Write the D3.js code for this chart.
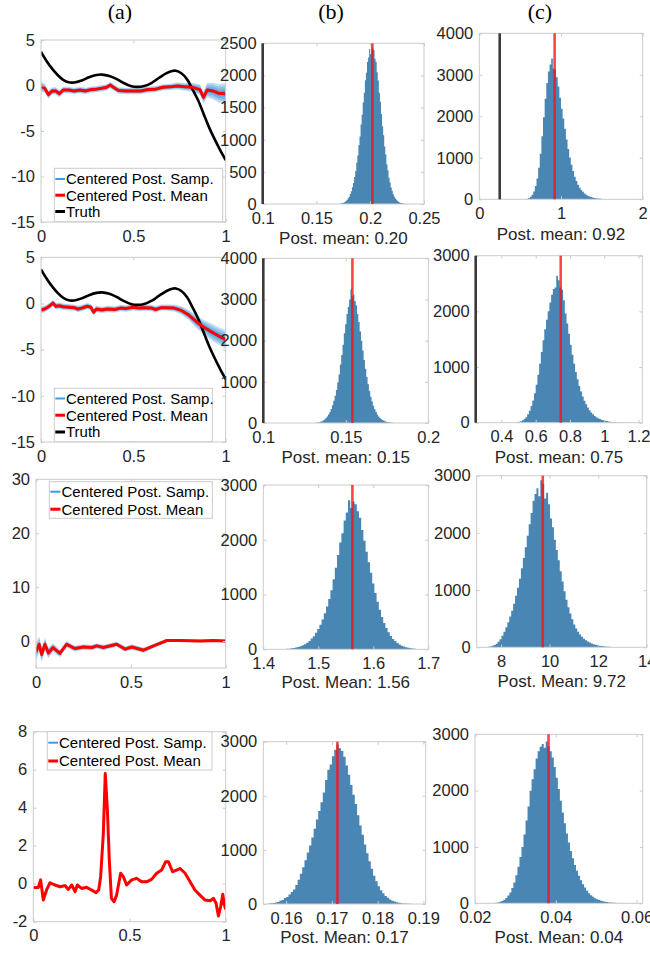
<!DOCTYPE html>
<html>
<head>
<meta charset="utf-8">
<script src="https://cdn.jsdelivr.net/npm/d3@7"></script>
<style>
  body { margin: 0; background: #fff; }
  svg { display: block; }
</style>
</head>
<body>
<svg id="fig" width="650" height="953"></svg>
<script>
// ---------------- data ----------------
const columnTitles = ["(a)", "(b)", "(c)"];
const legendFull = ["Centered Post. Samp.", "Centered Post. Mean", "Truth"];
const legendShort = ["Centered Post. Samp.", "Centered Post. Mean"];

// shared true function (rows 1 and 2, column a)
const truthX = [0, 0.03, 0.06, 0.09, 0.12, 0.15, 0.18, 0.22, 0.26, 0.3, 0.33, 0.37, 0.41, 0.45, 0.49, 0.52, 0.56, 0.6, 0.64, 0.68, 0.71, 0.73, 0.76, 0.79, 0.82, 0.85, 0.88, 0.91, 0.94, 0.97, 1.0];
const truthY = [3.7, 2.7, 1.85, 1.15, 0.62, 0.35, 0.33, 0.55, 0.9, 1.15, 1.2, 1.05, 0.7, 0.25, -0.08, -0.15, -0.05, 0.3, 0.85, 1.35, 1.6, 1.62, 1.35, 0.7, -0.4, -1.6, -3.1, -4.6, -5.9, -7.1, -8.2];

// posterior mean and sample spread, row 1
const mean1X = [0, 0.02, 0.04, 0.06, 0.08, 0.1, 0.12, 0.15, 0.18, 0.21, 0.24, 0.27, 0.3, 0.33, 0.355, 0.375, 0.4, 0.42, 0.46, 0.5, 0.54, 0.58, 0.62, 0.66, 0.7, 0.74, 0.78, 0.82, 0.86, 0.88, 0.9, 0.93, 0.96, 1.0];
const mean1Y = [-0.1, -0.3, -1.0, -0.6, -0.6, -0.9, -0.5, -0.5, -0.6, -0.5, -0.6, -0.45, -0.4, -0.3, -0.2, 0.05, -0.3, -0.55, -0.6, -0.6, -0.6, -0.45, -0.4, -0.2, -0.15, -0.05, -0.15, -0.2, -0.45, -1.3, -0.5, -0.6, -0.85, -0.9];
const spread1 = [0.55, 0.5, 0.45, 0.4, 0.4, 0.4, 0.36, 0.35, 0.35, 0.35, 0.35, 0.35, 0.35, 0.35, 0.35, 0.35, 0.35, 0.35, 0.35, 0.35, 0.35, 0.35, 0.35, 0.35, 0.35, 0.38, 0.42, 0.5, 0.6, 0.7, 0.8, 0.9, 1.0, 1.15];

// row 2
const mean2X = [0, 0.02, 0.045, 0.065, 0.08, 0.1, 0.12, 0.15, 0.18, 0.2, 0.22, 0.25, 0.27, 0.285, 0.3, 0.33, 0.36, 0.4, 0.43, 0.46, 0.5, 0.53, 0.56, 0.6, 0.62, 0.65, 0.68, 0.72, 0.76, 0.8, 0.84, 0.88, 0.92, 0.96, 1.0];
const mean2Y = [-0.7, -0.6, -0.3, 0.05, -0.3, -0.25, -0.35, -0.4, -0.45, -0.6, -0.5, -0.3, -0.4, -0.95, -0.6, -0.7, -0.6, -0.65, -0.5, -0.55, -0.4, -0.5, -0.45, -0.5, -0.65, -0.45, -0.45, -0.5, -0.75, -1.25, -1.95, -2.55, -3.05, -3.5, -3.9];
const spread2 = [0.35, 0.35, 0.35, 0.35, 0.35, 0.35, 0.35, 0.35, 0.35, 0.35, 0.35, 0.35, 0.35, 0.35, 0.35, 0.35, 0.35, 0.35, 0.35, 0.35, 0.35, 0.35, 0.35, 0.35, 0.35, 0.35, 0.35, 0.38, 0.45, 0.55, 0.7, 0.8, 0.9, 0.95, 1.0];

// row 3
const mean3X = [0, 0.017, 0.03, 0.047, 0.065, 0.09, 0.126, 0.161, 0.205, 0.25, 0.294, 0.32, 0.355, 0.425, 0.47, 0.505, 0.567, 0.62, 0.69, 0.76, 0.865, 0.935, 1.0];
const mean3Y = [-2.0, -0.6, -2.5, -0.6, -2.2, -1.2, -2.3, -0.6, -1.4, -1.1, -1.2, -0.9, -1.2, -0.6, -1.5, -1.1, -1.7, -0.9, 0.1, 0.1, 0, 0.1, 0];
const spread3 = [1.6, 1.5, 1.4, 1.2, 1.0, 0.8, 0.7, 0.6, 0.55, 0.5, 0.5, 0.5, 0.5, 0.5, 0.5, 0.5, 0.5, 0.4, 0.3, 0.3, 0.3, 0.3, 0.3];

// row 4
const mean4X = [0, 0.026, 0.038, 0.052, 0.069, 0.087, 0.113, 0.139, 0.165, 0.182, 0.2, 0.217, 0.229, 0.251, 0.277, 0.303, 0.326, 0.34, 0.35, 0.364, 0.374, 0.385, 0.395, 0.406, 0.42, 0.433, 0.454, 0.468, 0.485, 0.511, 0.537, 0.563, 0.589, 0.615, 0.641, 0.667, 0.688, 0.702, 0.724, 0.745, 0.763, 0.789, 0.815, 0.84, 0.866, 0.893, 0.919, 0.936, 0.95, 0.962, 0.974, 0.985, 0.991, 1.0];
const mean4Y = [-0.2, -0.2, 0.2, -0.86, -0.33, 0.05, -0.07, -0.16, -0.1, -0.3, -0.07, -0.42, -0.07, -0.25, -0.19, -0.33, -0.47, -0.33, 0.37, 2.65, 5.8, 3.9, 1.25, -0.77, -0.95, -0.6, 0.55, 0.37, -0.07, 0.2, 0.28, 0.1, 0.1, 0.23, 0.55, 0.72, 1.16, 1.16, 0.63, 0.72, 0.8, 0.55, 0.1, -0.33, -0.6, -0.86, -0.9, -0.77, -1.03, -1.7, -1.2, -0.56, -1.03, -1.35];
const spread4 = mean4X.map(() => 0.08);

// tick values / labels, column a
const fnXTicks = [0, 0.5, 1];
const fnXLabels = ["0", "0.5", "1"];
const fnYTicks12 = [5, 0, -5, -10, -15];
const fnYLabels12 = ["5", "0", "-5", "-10", "-15"];
const fnYTicks3 = [30, 20, 10, 0];
const fnYLabels3 = ["30", "20", "10", "0"];
const fnYTicks4 = [8, 6, 4, 2, 0, -2];
const fnYLabels4 = ["8", "6", "4", "2", "0", "-2"];

// histograms: first bin edge, bin width, counts
const histB1Start = 0.172, histB1Bin = 0.001;
const histB1Counts = [7, 11, 16, 22, 33, 46, 64, 88, 113, 156, 198, 262, 328, 420, 512, 640, 755, 915, 1050, 1235, 1390, 1580, 1730, 1925, 2040, 2210, 2280, 2410, 2330, 2450, 2420, 2390, 2260, 2210, 2050, 1920, 1730, 1590, 1400, 1210, 1070, 895, 770, 620, 525, 410, 335, 255, 205, 150, 118, 84, 66, 46, 33, 22, 16, 11, 7, 5, 3, 2, 1, 1];
const histB1Mean = 0.202, histB1Truth = 0.1;

const histC1Start = 0.5, histC1Bin = 0.02;
const histC1Counts = [1, 2, 4, 8, 16, 32, 60, 110, 190, 320, 500, 760, 1100, 1520, 1980, 2420, 2800, 3080, 3250, 3390, 3150, 3120, 2940, 2720, 2450, 2180, 1950, 1700, 1440, 1210, 1010, 830, 680, 545, 440, 350, 280, 225, 180, 140, 112, 88, 70, 55, 43, 34, 27, 21, 17, 13, 10, 8, 7, 5, 4, 4, 3, 3, 2, 2, 2, 1, 1, 1, 1, 1, 1, 1];
const histC1Mean = 0.922, histC1Truth = 0.25;

const histB2Start = 0.132, histB2Bin = 0.0008;
const histB2Counts = [8, 12, 20, 30, 45, 62, 85, 115, 155, 205, 265, 340, 430, 540, 660, 800, 990, 1180, 1420, 1650, 1900, 2180, 2400, 2650, 2820, 3000, 3240, 3080, 3120, 2960, 2860, 2650, 2450, 2220, 2000, 1760, 1530, 1320, 1120, 940, 780, 640, 520, 420, 335, 265, 205, 160, 122, 92, 70, 52, 38, 28, 20, 14, 10, 7, 5, 3];
const histB2Mean = 0.154, histB2Truth = 0.1;

const histC2Start = 0.45, histC2Bin = 0.01;
const histC2Counts = [2, 3, 5, 7, 11, 18, 28, 42, 65, 100, 150, 215, 300, 400, 530, 680, 860, 1060, 1270, 1480, 1680, 1850, 2000, 2160, 2300, 2400, 2430, 2640, 2560, 2430, 2390, 2200, 1960, 1780, 1600, 1400, 1220, 1060, 910, 780, 660, 560, 470, 395, 330, 275, 225, 185, 150, 122, 100, 82, 66, 54, 44, 36, 29, 23, 18, 14, 11, 9, 7, 5, 4, 3, 3, 2, 2, 1];
const histC2Mean = 0.746, histC2Truth = 0.25;

const histB3Start = 1.43, histB3Bin = 0.004;
const histB3Counts = [3, 4, 6, 9, 12, 17, 24, 32, 42, 55, 72, 92, 118, 150, 195, 240, 300, 370, 450, 545, 660, 780, 920, 1080, 1280, 1490, 1720, 1950, 2120, 2350, 2500, 2720, 2580, 2700, 2650, 2520, 2400, 2180, 1980, 1780, 1590, 1400, 1200, 1030, 870, 720, 590, 480, 390, 310, 245, 190, 150, 115, 88, 66, 50, 37, 27, 20, 14, 10, 7, 5, 3];
const histB3Mean = 1.562;

const histC3Start = 7.3, histC3Bin = 0.08;
const histC3Counts = [3, 6, 10, 16, 26, 40, 62, 95, 140, 200, 270, 350, 440, 540, 640, 760, 900, 1040, 1200, 1380, 1560, 1750, 1950, 2150, 2350, 2560, 2680, 2780, 2640, 2920, 2860, 2600, 2700, 2500, 2250, 2100, 1880, 1700, 1520, 1330, 1150, 980, 830, 700, 590, 490, 400, 330, 270, 225, 185, 150, 125, 100, 82, 66, 54, 44, 35, 28, 22, 18, 14, 11, 8, 6, 5, 3, 2, 2, 1, 1];
const histC3Mean = 9.72;

const histB4Start = 0.156, histB4Bin = 0.0005;
const histB4Counts = [8, 12, 18, 26, 38, 60, 75, 110, 130, 175, 220, 270, 350, 450, 560, 680, 810, 950, 1080, 1230, 1390, 1560, 1720, 1880, 2060, 2290, 2480, 2580, 2730, 2850, 2950, 2880, 2830, 2720, 2560, 2390, 2200, 2020, 1850, 1640, 1450, 1280, 1100, 940, 790, 650, 520, 420, 330, 255, 200, 150, 115, 85, 62, 45, 32, 23, 16, 11, 8, 5, 3, 2, 1, 1];
const histB4Mean = 0.1712;

const histC4Start = 0.024, histC4Bin = 0.0005;
const histC4Counts = [4, 6, 10, 16, 26, 42, 65, 95, 140, 190, 270, 370, 500, 650, 820, 1000, 1220, 1470, 1720, 2000, 2200, 2380, 2570, 2700, 2780, 2830, 2760, 2870, 2790, 2700, 2590, 2420, 2230, 2030, 1820, 1610, 1420, 1240, 1080, 930, 800, 680, 580, 490, 410, 340, 280, 225, 180, 145, 115, 90, 72, 57, 45, 35, 27, 21, 16, 13, 10, 8, 6, 5, 4, 3, 2, 2, 1];
const histC4Mean = 0.0382;

// axis ticks, histograms
const histB1XTicks = [0.1, 0.15, 0.2, 0.25], histB1XLabels = ["0.1", "0.15", "0.2", "0.25"];
const histB1YTicks = [0, 500, 1000, 1500, 2000, 2500];
const histC1XTicks = [0, 1, 2], histC1XLabels = ["0", "1", "2"];
const histC1YTicks = [0, 1000, 2000, 3000, 4000];
const histB2XTicks = [0.1, 0.15, 0.2], histB2XLabels = ["0.1", "0.15", "0.2"];
const histB2YTicks = [0, 1000, 2000, 3000, 4000];
const histC2XTicks = [0.4, 0.6, 0.8, 1, 1.2], histC2XLabels = ["0.4", "0.6", "0.8", "1", "1.2"];
const histC2YTicks = [0, 1000, 2000, 3000];
const histB3XTicks = [1.4, 1.5, 1.6, 1.7], histB3XLabels = ["1.4", "1.5", "1.6", "1.7"];
const histB3YTicks = [0, 1000, 2000, 3000];
const histC3XTicks = [8, 10, 12, 14], histC3XLabels = ["8", "10", "12", "14"];
const histC3YTicks = [0, 1000, 2000, 3000];
const histB4XTicks = [0.16, 0.17, 0.18, 0.19], histB4XLabels = ["0.16", "0.17", "0.18", "0.19"];
const histB4YTicks = [0, 1000, 2000, 3000];
const histC4XTicks = [0.02, 0.04, 0.06], histC4XLabels = ["0.02", "0.04", "0.06"];
const histC4YTicks = [0, 1000, 2000, 3000];

// ---------------- drawing ----------------
const svg = d3.select("#fig");
const FONT = "'Liberation Sans', Arial, Helvetica, sans-serif";
const TXT = "#262626";
const FRAME = "#cbcbcb";
let clipId = 0;

function frameAndAxes(g, x, y, box, xTicks, xLabels, yTicks, yLabels) {
  const ax = d3.axisBottom(x).tickValues(xTicks).tickFormat((d, i) => xLabels[i])
    .tickSizeInner(-3).tickSizeOuter(0).tickPadding(8);
  const ay = d3.axisLeft(y).tickValues(yTicks).tickFormat((d, i) => yLabels[i])
    .tickSizeInner(-3).tickSizeOuter(0).tickPadding(6);
  const at = d3.axisTop(x).tickValues(xTicks).tickFormat("").tickSizeInner(-3).tickSizeOuter(0);
  const ar = d3.axisRight(y).tickValues(yTicks).tickFormat("").tickSizeInner(-3).tickSizeOuter(0);
  const gx = g.append("g").attr("transform", `translate(0,${box.B})`).call(ax);
  const gy = g.append("g").attr("transform", `translate(${box.L},0)`).call(ay);
  const gt = g.append("g").attr("transform", `translate(0,${box.T})`).call(at);
  const gr = g.append("g").attr("transform", `translate(${box.R},0)`).call(ar);
  [gx, gy, gt, gr].forEach(a => {
    a.select(".domain").remove();
    a.selectAll(".tick line").attr("stroke", FRAME);
    a.selectAll("text").attr("fill", TXT).style("font-family", FONT).style("font-size", "16.5px");
  });
  g.append("rect").attr("x", box.L).attr("y", box.T)
    .attr("width", box.R - box.L).attr("height", box.B - box.T)
    .attr("fill", "none").attr("stroke", FRAME).attr("stroke-width", 1);
}

function clipFor(box) {
  const id = "clip" + (clipId++);
  svg.append("clipPath").attr("id", id).append("rect")
    .attr("x", box.L).attr("y", box.T).attr("width", box.R - box.L).attr("height", box.B - box.T);
  return `url(#${id})`;
}

function drawFunctionPanel(cfg) {
  const { box } = cfg;
  const g = svg.append("g");
  const x = d3.scaleLinear().domain([0, 1]).range([box.L, box.R]);
  const y = d3.scaleLinear().domain(cfg.yDomain).range([box.B, box.T]);
  const inner = g.append("g").attr("clip-path", clipFor(box));

  const n = Math.min(cfg.mx.length, cfg.my.length, cfg.sp.length);
  const pts = d3.range(n).map(i => ({ x: cfg.mx[i], y: cfg.my[i], s: cfg.sp[i] }));

  // posterior samples shown as a soft layered band, densest near the mean
  [1, 0.75, 0.5, 0.28].forEach(k => {
    const area = d3.area().x(d => x(d.x)).y0(d => y(d.y - k * d.s)).y1(d => y(d.y + k * d.s));
    inner.append("path").datum(pts).attr("d", area).attr("fill", "#157bd0").attr("fill-opacity", 0.26);
  });

  if (cfg.truth) {
    const tp = truthX.map((v, i) => [v, truthY[i]]);
    inner.append("path").datum(tp)
      .attr("d", d3.line().x(d => x(d[0])).y(d => y(d[1])).curve(d3.curveCatmullRom.alpha(0.5)))
      .attr("fill", "none").attr("stroke", "#000").attr("stroke-width", 2.6);
  }

  inner.append("path").datum(pts)
    .attr("d", d3.line().x(d => x(d.x)).y(d => y(d.y)))
    .attr("fill", "none").attr("stroke", "#ff0000").attr("stroke-width", 3).attr("stroke-linejoin", "round");

  frameAndAxes(g, x, y, box, fnXTicks, fnXLabels, cfg.yTicks, cfg.yLabels);

  // legend
  const lg = cfg.legend;
  g.append("rect").attr("x", lg.L).attr("y", lg.T).attr("width", lg.R - lg.L).attr("height", lg.B - lg.T)
    .attr("fill", "#fff").attr("stroke", FRAME).attr("stroke-width", 1);
  const styles = [
    { c: "#3f9be0", w: 2 },
    { c: "#ff0000", w: 3 },
    { c: "#000", w: 3 }
  ];
  cfg.legendItems.forEach((t, i) => {
    const yy = lg.rows[i];
    g.append("line").attr("x1", lg.L + 1).attr("x2", lg.textX - 1).attr("y1", yy).attr("y2", yy)
      .attr("stroke", styles[i].c).attr("stroke-width", styles[i].w);
    g.append("text").attr("x", lg.textX).attr("y", yy).attr("dy", "0.36em")
      .attr("fill", "#000").style("font-family", FONT).style("font-size", "15px").text(t);
  });
}

function drawHistPanel(cfg) {
  const { box } = cfg;
  const g = svg.append("g");
  const x = d3.scaleLinear().domain(cfg.xDomain).range([box.L, box.R]);
  const y = d3.scaleLinear().domain([0, d3.max(cfg.yTicks)]).range([box.B, box.T]);
  const inner = g.append("g").attr("clip-path", clipFor(box));

  // bars as one stepped outline so neighbouring bins join without seams
  const edges = cfg.counts.map((c, i) => ({ e: cfg.start + i * cfg.bin, c }));
  edges.push({ e: cfg.start + cfg.counts.length * cfg.bin, c: cfg.counts[cfg.counts.length - 1] });
  inner.append("path").datum(edges)
    .attr("d", d3.area().curve(d3.curveStepAfter).x(d => x(d.e)).y0(y(0)).y1(d => y(d.c)))
    .attr("fill", "#4a86b3");

  frameAndAxes(g, x, y, box, cfg.xTicks, cfg.xLabels, cfg.yTicks, cfg.yTicks.map(String));

  if (cfg.truth !== undefined) {
    g.append("line").attr("x1", x(cfg.truth)).attr("x2", x(cfg.truth))
      .attr("y1", box.T).attr("y2", box.B)
      .attr("stroke", "#3a3a3a").attr("stroke-width", 2.6);
  }
  g.append("line").attr("x1", x(cfg.mean)).attr("x2", x(cfg.mean))
    .attr("y1", box.T).attr("y2", box.B)
    .attr("stroke", "#ff1010").attr("stroke-opacity", 0.78).attr("stroke-width", 2.6);

  g.append("text").attr("x", (box.L + box.R) / 2).attr("y", box.B + cfg.labelGap)
    .attr("text-anchor", "middle").attr("dy", "0.36em")
    .attr("fill", TXT).style("font-family", FONT).style("font-size", "17px")
    .text(cfg.prefix + d3.format(".2f")(cfg.mean));
}

// column headers
const headerX = [120, 331, 540];
columnTitles.forEach((t, i) => {
  svg.append("text").attr("x", headerX[i]).attr("y", 19).attr("text-anchor", "middle")
    .style("font-family", "'Liberation Serif', 'Times New Roman', serif").style("font-size", "22px")
    .attr("fill", "#000").text(t);
});

// column a
drawFunctionPanel({
  box: { L: 41, R: 225.7, T: 40, B: 222 }, yDomain: [-15, 5],
  mx: mean1X, my: mean1Y, sp: spread1, truth: true,
  yTicks: fnYTicks12, yLabels: fnYLabels12, legendItems: legendFull,
  legend: { L: 54.3, R: 222.7, T: 168.3, B: 221.7, textX: 66, rows: [179, 195.2, 211.5] }
});
drawFunctionPanel({
  box: { L: 41, R: 225.7, T: 257.3, B: 442 }, yDomain: [-15, 5],
  mx: mean2X, my: mean2Y, sp: spread2, truth: true,
  yTicks: fnYTicks12, yLabels: fnYLabels12, legendItems: legendFull,
  legend: { L: 54.3, R: 212.3, T: 388.3, B: 441.7, textX: 66, rows: [398.5, 415.2, 432] }
});
drawFunctionPanel({
  box: { L: 36, R: 225.7, T: 479.3, B: 668 }, yDomain: [-5, 30],
  mx: mean3X, my: mean3Y, sp: spread3, truth: false,
  yTicks: fnYTicks3, yLabels: fnYLabels3, legendItems: legendShort,
  legend: { L: 49.3, R: 212.3, T: 481.7, B: 518.3, textX: 61.5, rows: [491.7, 509.2] }
});
drawFunctionPanel({
  box: { L: 33.3, R: 225.7, T: 731.7, B: 921.7 }, yDomain: [-2, 8],
  mx: mean4X, my: mean4Y, sp: spread4, truth: false,
  yTicks: fnYTicks4, yLabels: fnYLabels4, legendItems: legendShort,
  legend: { L: 47.3, R: 212, T: 731.7, B: 770, textX: 59, rows: [742.7, 761] }
});

// columns b and c
drawHistPanel({ box: { L: 262.7, R: 424, T: 43.3, B: 204 }, xDomain: [0.1, 0.25],
  start: histB1Start, bin: histB1Bin, counts: histB1Counts, mean: histB1Mean, truth: histB1Truth,
  xTicks: histB1XTicks, xLabels: histB1XLabels, yTicks: histB1YTicks, prefix: "Post. mean: ", labelGap: 34 });
drawHistPanel({ box: { L: 479.3, R: 642.7, T: 33.3, B: 199.3 }, xDomain: [0, 2],
  start: histC1Start, bin: histC1Bin, counts: histC1Counts, mean: histC1Mean, truth: histC1Truth,
  xTicks: histC1XTicks, xLabels: histC1XLabels, yTicks: histC1YTicks, prefix: "Post. mean: ", labelGap: 35 });
drawHistPanel({ box: { L: 263.3, R: 428.3, T: 258.3, B: 423 }, xDomain: [0.1, 0.2],
  start: histB2Start, bin: histB2Bin, counts: histB2Counts, mean: histB2Mean, truth: histB2Truth,
  xTicks: histB2XTicks, xLabels: histB2XLabels, yTicks: histB2YTicks, prefix: "Post. mean: ", labelGap: 34 });
drawHistPanel({ box: { L: 475.7, R: 642.3, T: 255.7, B: 422.7 }, xDomain: [0.25, 1.222],
  start: histC2Start, bin: histC2Bin, counts: histC2Counts, mean: histC2Mean, truth: histC2Truth,
  xTicks: histC2XTicks, xLabels: histC2XLabels, yTicks: histC2YTicks, prefix: "Post. mean: ", labelGap: 34 });
drawHistPanel({ box: { L: 263.3, R: 428.3, T: 485, B: 649.3 }, xDomain: [1.4, 1.7],
  start: histB3Start, bin: histB3Bin, counts: histB3Counts, mean: histB3Mean,
  xTicks: histB3XTicks, xLabels: histB3XLabels, yTicks: histB3YTicks, prefix: "Post. Mean: ", labelGap: 33 });
drawHistPanel({ box: { L: 476.7, R: 646.7, T: 475.7, B: 647.3 }, xDomain: [7, 14],
  start: histC3Start, bin: histC3Bin, counts: histC3Counts, mean: histC3Mean,
  xTicks: histC3XTicks, xLabels: histC3XLabels, yTicks: histC3YTicks, prefix: "Post. Mean: ", labelGap: 34 });
drawHistPanel({ box: { L: 263.3, R: 425.7, T: 741.7, B: 904 }, xDomain: [0.155, 0.1905],
  start: histB4Start, bin: histB4Bin, counts: histB4Counts, mean: histB4Mean,
  xTicks: histB4XTicks, xLabels: histB4XLabels, yTicks: histB4YTicks, prefix: "Post. Mean: ", labelGap: 33 });
drawHistPanel({ box: { L: 475, R: 642.7, T: 734.3, B: 903.3 }, xDomain: [0.02, 0.0615],
  start: histC4Start, bin: histC4Bin, counts: histC4Counts, mean: histC4Mean,
  xTicks: histC4XTicks, xLabels: histC4XLabels, yTicks: histC4YTicks, prefix: "Post. Mean: ", labelGap: 34 });
</script>
</body>
</html>
